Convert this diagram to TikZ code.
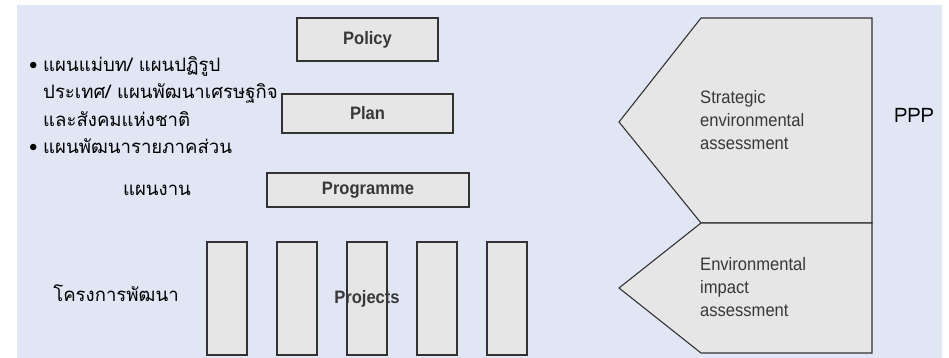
\documentclass[tikz,border=0pt]{standalone}
\usepackage{fontspec}
\newfontfamily\thaifont[Script=Thai]{Loma}
\newfontfamily\narrowsans[FakeStretch=0.92]{Liberation Sans}
\usetikzlibrary{positioning}
\definecolor{bgblue}{HTML}{E0E6F4}
\definecolor{boxgray}{HTML}{E6E6E6}
\definecolor{edgegray}{HTML}{333333}
\definecolor{textgray}{HTML}{383838}

\begin{document}
\begin{tikzpicture}[
    x=1pt, y=-1pt,
    levelbox/.style={draw=edgegray, line width=1.4pt, fill=boxgray, inner sep=0pt, font=\narrowsans\bfseries\fontsize{18}{20}\selectfont, text=textgray, align=center},
    projbox/.style={draw=edgegray, line width=1.4pt, fill=boxgray, inner sep=0pt, minimum width=40pt, minimum height=113pt},
    assessbox/.style={draw=edgegray, line width=1.1pt, fill=boxgray, line join=miter},
    assesstext/.style={font=\narrowsans\fontsize{18}{23}\selectfont, text=textgray, align=left, anchor=west, inner sep=0pt},
    thaitext/.style={font=\thaifont\fontsize{18.6}{27.5}\selectfont, align=left, inner sep=0pt},
]
    \useasboundingbox (0,0) rectangle (949,358);
    \fill[bgblue] (17,5) rectangle (942,358);

    % Levels
    \node[levelbox, minimum width=141pt, minimum height=43pt] (policy) at (367.5,39.5) {Policy};
    \node[levelbox, minimum width=171pt, minimum height=39pt] (plan) at (367.5,113.5) {Plan};
    \node[levelbox, minimum width=202pt, minimum height=34pt] (programme) at (368,190) {Programme};

    % Projects
    \foreach \i in {1,...,5}
        \node[projbox] (proj\i) at (157+70*\i,298.5) {};
    \node[levelbox, draw=none, fill=none] (projects) at (proj3) {Projects};

    % Assessment arrows
    \draw[assessbox] (701,18) -- (872,18) -- (872,223) -- (701,223) -- (619,122) -- cycle;
    \draw[assessbox] (701,223) -- (872,223) -- (872,353) -- (701,353) -- (619,288) -- cycle;
    \node[assesstext] (sea) at (700,120) {Strategic\\environmental\\assessment};
    \node[assesstext] (eia) at (700,287) {Environmental\\impact\\assessment};

    % Thai labels
    \node[thaitext, anchor=north west] (planlist) at (29,56) {\makebox[14pt][l]{•}แผนแม่บท/ แผนปฏิรูป\\
        \hspace*{14pt}ประเทศ/ แผนพัฒนาเศรษฐกิจ\\
        \hspace*{14pt}และสังคมแห่งชาติ\\
        \makebox[14pt][l]{•}แผนพัฒนารายภาคส่วน};
    \node[thaitext] (worklist) at (157,190) {แผนงาน};
    \node[thaitext] (devlist) at (116,293) {โครงการพัฒนา};
    \node[thaitext, font=\thaifont\fontsize{20}{24}\selectfont] (ppp) at (914,115) {PPP};
\end{tikzpicture}
\end{document}
